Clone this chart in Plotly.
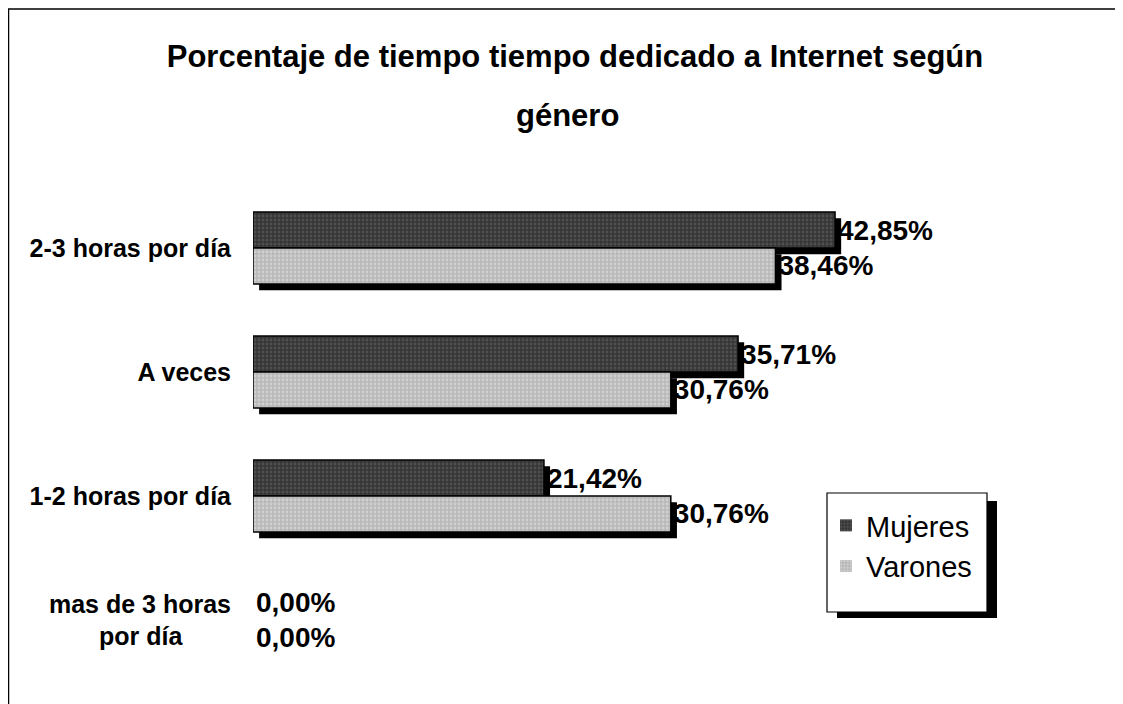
import plotly.graph_objects as go

# datos (de abajo hacia arriba)
categorias = ["mas de 3 horas<br>por día" + "\u00a0" * 7, "1-2 horas por día", "A veces", "2-3 horas por día"]
mujeres = [0.00, 21.42, 35.71, 42.85]
varones = [0.00, 30.76, 30.76, 38.46]

FONT = "Liberation Sans, Arial, sans-serif"
W, H = 1115, 696          # la página añade 8px de margen
L, T, PW, PH = 245, 178, 815, 496
ancho = 0.29
sx = 0.45    # desplazamiento de la sombra (en %)
sy = 0.05    # desplazamiento de la sombra (en categorías)


def px(x):
    return (x - L) / PW


def py(y):
    return (T + PH - y) / PH


fig = go.Figure()

# sombras
for vals, off in [(mujeres, 0.0), (varones, -ancho)]:
    fig.add_trace(go.Bar(
        y=categorias, x=vals, base=sx, orientation="h",
        width=ancho, offset=off - sy,
        marker=dict(color="black", line=dict(width=0)),
        showlegend=False, hoverinfo="skip",
    ))


def borde(vals):
    return [0 if v == 0 else 1.5 for v in vals]


fig.add_trace(go.Bar(
    y=categorias, x=mujeres, name="Mujeres", orientation="h",
    width=ancho, offset=0.0, legendgroup="m",
    marker=dict(color="#454545", line=dict(color="black", width=borde(mujeres)),
                pattern=dict(shape=".", fgcolor="#6a6a6a", bgcolor="#363636", size=4, solidity=0.4)),
    texttemplate="%{x:.2f}%", textposition="outside", cliponaxis=False,
    constraintext="none",
    textfont=dict(family=FONT, size=28, color="black", weight="bold"),
))
fig.add_trace(go.Bar(
    y=categorias, x=varones, name="Varones", orientation="h",
    width=ancho, offset=-ancho, legendgroup="v",
    marker=dict(color="#c4c4c4", line=dict(color="black", width=borde(varones)),
                pattern=dict(shape=".", fgcolor="#e8e8e8", bgcolor="#b8b8b8", size=4, solidity=0.4)),
    texttemplate="%{x:.2f}%", textposition="outside", cliponaxis=False,
    constraintext="none",
    textfont=dict(family=FONT, size=28, color="black", weight="bold"),
))

fig.update_layout(
    width=W, height=H,
    barmode="overlay",
    separators=",.",
    paper_bgcolor="white", plot_bgcolor="white",
    margin=dict(l=L, r=W - L - PW, t=T, b=H - T - PH, autoexpand=False),
    title=dict(
        text="Porcentaje de tiempo tiempo dedicado a Internet según",
        x=567 / W, xanchor="center", y=1 - 48 / H, yanchor="middle",
        font=dict(family=FONT, size=31, color="black", weight="bold"),
    ),
    annotations=[dict(
        text="género", xref="paper", yref="paper",
        x=px(559), y=py(107), xanchor="center", yanchor="middle",
        showarrow=False, font=dict(family=FONT, size=31, color="black", weight="bold"),
    )],
    xaxis=dict(range=[0, 60], showgrid=False, zeroline=False, showticklabels=False,
               showline=False, ticks="", automargin=False),
    yaxis=dict(categoryorder="array", categoryarray=categorias, range=[-0.5, 3.5],
               showgrid=False, zeroline=False, showline=False, ticks="",
               automargin=False, ticklabelstandoff=21,
               tickfont=dict(family=FONT, size=25, color="black", weight="bold")),
    legend=dict(
        x=px(818), y=py(492), xanchor="left", yanchor="top",
        bgcolor="rgba(0,0,0,0)", borderwidth=0,
        traceorder="normal", tracegroupgap=20,
        font=dict(family=FONT, size=29, color="black"),
    ),
    shapes=[
        # marco del gráfico
        dict(type="rect", xref="paper", yref="paper",
             x0=px(0.5), x1=px(1114), y0=py(H + 20), y1=py(1),
             line=dict(color="black", width=1.5), fillcolor="rgba(0,0,0,0)"),
        # sombra de la leyenda
        dict(type="rect", xref="paper", yref="paper",
             x0=px(829), x1=px(989), y0=py(610), y1=py(493),
             line=dict(width=0), fillcolor="black", layer="above"),
        # caja de la leyenda
        dict(type="rect", xref="paper", yref="paper",
             x0=px(819), x1=px(979), y0=py(604), y1=py(485),
             line=dict(color="black", width=1.2), fillcolor="white", layer="above"),
    ],
)

fig.write_html("out.html")
